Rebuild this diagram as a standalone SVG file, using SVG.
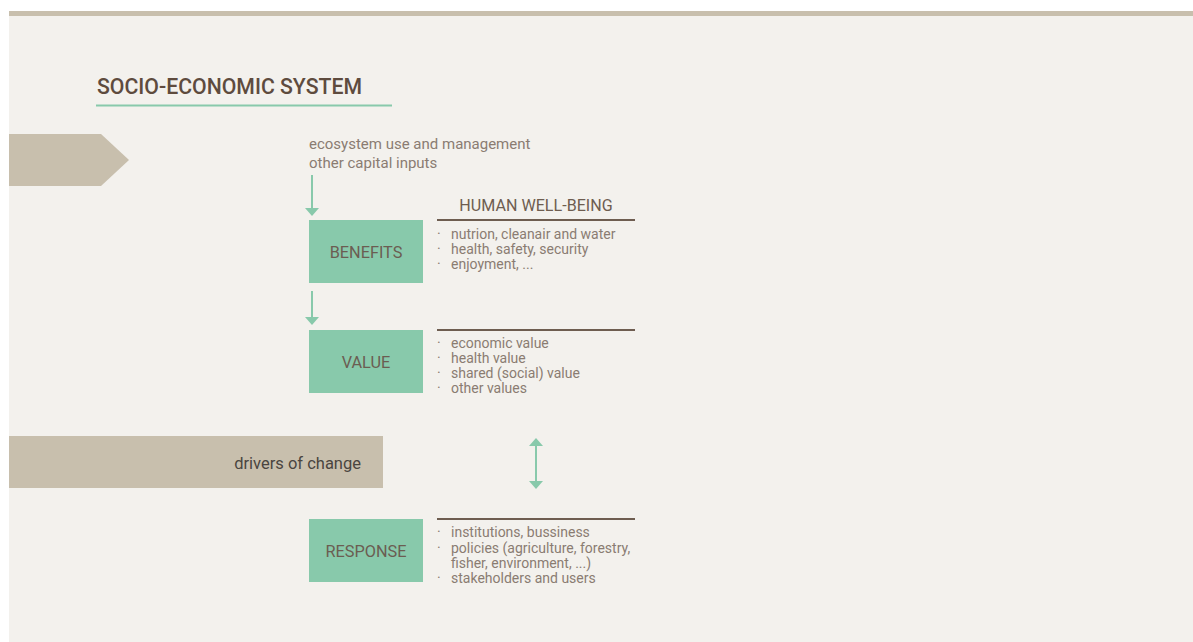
<svg xmlns="http://www.w3.org/2000/svg" width="1193" height="642" viewBox="0 0 1193 642">
<style>
.t{font-family:Roboto,"Liberation Sans",sans-serif;}
.title{font-size:22px;fill:#5e4b3e;font-weight:500;}
.in{font-size:15px;fill:#8a7c72;}
.box{fill:#88c9ab;}
.bl{font-size:16.3px;fill:#6b5d52;text-anchor:middle;}
.hd{font-size:16.1px;fill:#6e5d50;text-anchor:middle;}
.it{font-size:14px;fill:#8a7c72;}
.rule{stroke:#6e5d50;stroke-width:2;}
.arr{stroke:#88c9ab;stroke-width:2;fill:none;}
.ah{fill:#88c9ab;}
.tan{fill:#c8bfad;}
</style>
<rect x="0" y="0" width="1193" height="642" fill="#ffffff"/>
<rect x="9" y="11" width="1184" height="631" fill="#f3f1ed"/>
<rect x="9" y="11" width="1184" height="5" class="tan"/>
<g id="title">
<text class="t title" x="97" y="94" textLength="265" lengthAdjust="spacingAndGlyphs">SOCIO-ECONOMIC SYSTEM</text>
<rect x="96" y="104.5" width="296" height="2" fill="#88c9ab"/>
</g>
<g id="inputs-chevron"><polygon class="tan" points="9,134 101,134 129,160 101,186 9,186"/></g>
<g id="inputs">
<text class="t in" x="309" y="149">ecosystem use and management</text>
<text class="t in" x="309" y="168">other capital inputs</text>
</g>
<g id="connectors">
<line class="arr" x1="312" y1="175" x2="312" y2="209"/>
<polygon class="ah" points="305,208 319,208 312,216"/>
<line class="arr" x1="312" y1="291" x2="312" y2="318"/>
<polygon class="ah" points="305,317 319,317 312,325"/>
<line class="arr" x1="536" y1="446" x2="536" y2="481"/>
<polygon class="ah" points="529,446 543,446 536,438"/>
<polygon class="ah" points="529,481 543,481 536,489"/>
</g>
<g id="benefits">
<rect class="box" x="309" y="220" width="114" height="63"/>
<text class="t bl" x="366" y="258">BENEFITS</text>
</g>
<g id="human-well-being">
<text class="t hd" x="536" y="211">HUMAN WELL-BEING</text>
<line class="rule" x1="437" y1="220" x2="635" y2="220"/>
<text class="t it" x="437" y="239">·</text><text class="t it" x="451" y="239">nutrion, cleanair and water</text>
<text class="t it" x="437" y="254">·</text><text class="t it" x="451" y="254">health, safety, security</text>
<text class="t it" x="437" y="269">·</text><text class="t it" x="451" y="269">enjoyment, ...</text>
</g>
<g id="value">
<rect class="box" x="309" y="330" width="114" height="63"/>
<text class="t bl" x="366" y="368">VALUE</text>
</g>
<g id="value-list">
<line class="rule" x1="437" y1="330" x2="635" y2="330"/>
<text class="t it" x="437" y="348">·</text><text class="t it" x="451" y="348">economic value</text>
<text class="t it" x="437" y="363">·</text><text class="t it" x="451" y="363">health value</text>
<text class="t it" x="437" y="378">·</text><text class="t it" x="451" y="378">shared (social) value</text>
<text class="t it" x="437" y="393">·</text><text class="t it" x="451" y="393">other values</text>
</g>
<g id="drivers">
<rect class="tan" x="9" y="436" width="374" height="52"/>
<text class="t" x="361" y="469" text-anchor="end" font-size="16.5" fill="#4a4540">drivers of change</text>
</g>
<g id="response">
<rect class="box" x="309" y="519" width="114" height="63"/>
<text class="t bl" x="366" y="557">RESPONSE</text>
</g>
<g id="response-list">
<line class="rule" x1="437" y1="519" x2="635" y2="519"/>
<text class="t it" x="437" y="537">·</text><text class="t it" x="451" y="537">institutions, bussiness</text>
<text class="t it" x="437" y="553">·</text><text class="t it" x="451" y="553">policies (agriculture, forestry,</text>
<text class="t it" x="451" y="568">fisher, environment, ...)</text>
<text class="t it" x="437" y="583">·</text><text class="t it" x="451" y="583">stakeholders and users</text>
</g>
</svg>
